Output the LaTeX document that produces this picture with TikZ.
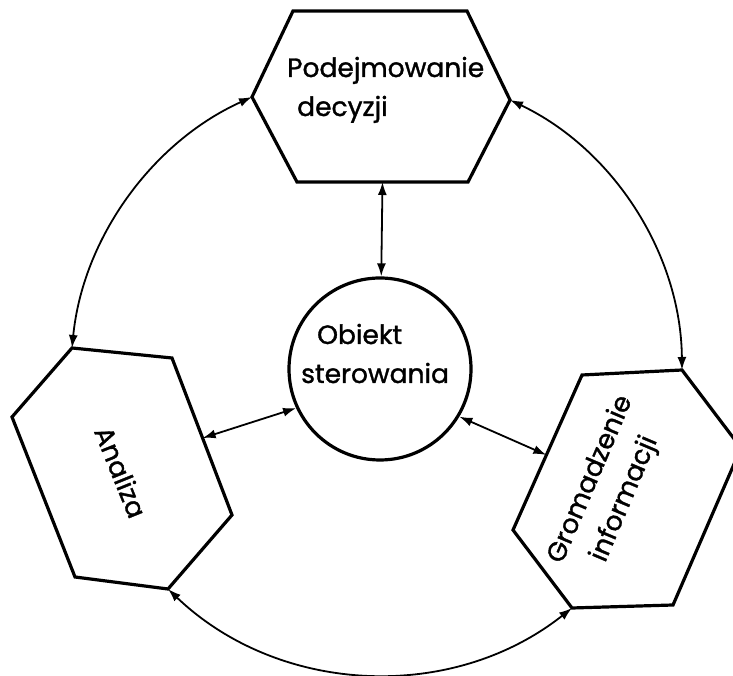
\documentclass[tikz,border=0pt]{standalone}
\usepackage{fontspec}
\setmainfont{Poppins}
\newfontfamily\lblfont{Poppins}[RawFeature={embolden=1.2}]
\usetikzlibrary{arrows.meta,calc}
\begin{document}
\begin{tikzpicture}[x=1pt,y=1pt,
  shapeline/.style={line width=3.2pt, line join=miter},
  conn/.style={line width=1.8pt, {Latex[length=13pt,width=9pt]}-{Latex[length=13pt,width=9pt]}},
  lbl/.style={font=\lblfont\fontsize{26.5}{39}\selectfont, inner sep=0pt, align=left}]
\useasboundingbox (0,0) rectangle (733,676);
\clip (0,0) rectangle (733,676);
% top hexagon
\coordinate (tTL) at (293,665);
\coordinate (tTR) at (467,665);
\coordinate (tR)  at (510,576);
\coordinate (tBR) at (468,494);
\coordinate (tBL) at (297,494);
\coordinate (tL)  at (252,579);
% left hexagon
\coordinate (lT)  at (72,328);
\coordinate (lTR) at (172,318);
\coordinate (lR)  at (232,161);
\coordinate (lBR) at (168,87);
\coordinate (lBL) at (75,99);
\coordinate (lL)  at (12,259);
% right hexagon
\coordinate (rTL) at (582,301);
\coordinate (rTR) at (682,306);
\coordinate (rR)  at (741,228);
\coordinate (rBR) at (673,71);
\coordinate (rBL) at (572,68);
\coordinate (rL)  at (513,146);
% attachment points
\coordinate (tB) at ($(tBL)!0.5!(tBR)$);
\coordinate (lA) at ($(lTR)!0.51!(lR)$);
\coordinate (rA) at ($(rL)!0.484!(rTL)$);

\draw[shapeline] (tTL) -- (tTR) -- (tR) -- (tBR) -- (tBL) -- (tL) -- cycle;
\draw[shapeline] (lT) -- (lTR) -- (lR) -- (lBR) -- (lBL) -- (lL) -- cycle;
\draw[shapeline] (rTL) -- (rTR) -- (rR) -- (rBR) -- (rBL) -- (rL) -- cycle;
\node[draw, circle, line width=3.2pt, minimum size=182pt, inner sep=0pt] (obj) at (380,307) {};

\node[lbl, anchor=base west] (ttxt) at (287,560) {Podejmowanie\\\hspace{10pt}decyzji};
\node[lbl, anchor=base west] (otxt) at (301,293) {\hspace{16pt}Obiekt\\sterowania};
\node[lbl, rotate=-68] (ltxt) at (121,204) {Analiza};
\node[lbl, anchor=base west, rotate=67] (rtxt) at (598,96) {Gromadzenie\\\hspace{18pt}informacji};

\draw[conn] (tB) -- (obj);
\draw[conn] (lA) -- (obj.205);
\draw[conn] (obj.329) -- (rA);
\draw[conn] (tL) to[bend right=30, looseness=0.91] (lT);
\draw[conn] (tR) to[bend left=32, looseness=0.92] (rTR);
\draw[conn] (lBR) to[bend right=41, looseness=0.97] (rBL);
\end{tikzpicture}
\end{document}
